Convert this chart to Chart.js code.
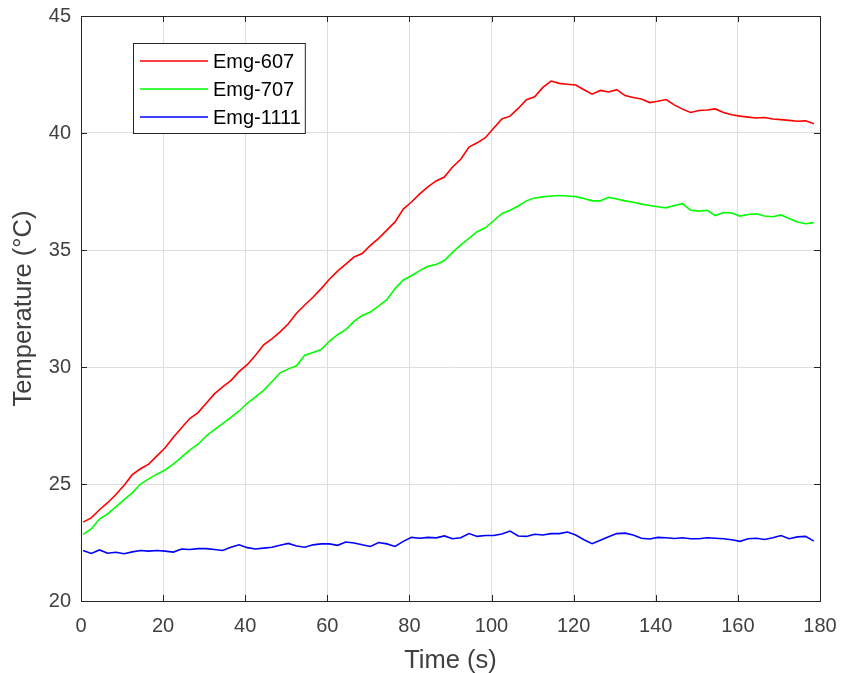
<!DOCTYPE html>
<html>
<head>
<meta charset="utf-8">
<script src="https://cdn.jsdelivr.net/npm/chart.js@4.4.0/dist/chart.umd.min.js"></script>
<style>
  html, body { margin: 0; padding: 0; background: #fff; }
  #wrap { width: 841px; height: 673px; }
</style>
</head>
<body>
<div id="wrap"><canvas id="tempChart" width="841" height="673"></canvas></div>
<script>
/* ===== Data ===== */
const timeS = [
  0.5, 2.5, 4.5, 6.5, 8.5, 10.5, 12.5, 14.5, 16.5, 18.5,
  20.5, 22.5, 24.5, 26.5, 28.5, 30.5, 32.5, 34.5, 36.5, 38.5,
  40.5, 42.5, 44.5, 46.5, 48.5, 50.5, 52.5, 54.5, 56.5, 58.5,
  60.5, 62.5, 64.5, 66.5, 68.5, 70.5, 72.5, 74.5, 76.5, 78.5,
  80.5, 82.5, 84.5, 86.5, 88.5, 90.5, 92.5, 94.5, 96.5, 98.5,
  100.5, 102.5, 104.5, 106.5, 108.5, 110.5, 112.5, 114.5, 116.5, 118.5,
  120.5, 122.5, 124.5, 126.5, 128.5, 130.5, 132.5, 134.5, 136.5, 138.5,
  140.5, 142.5, 144.5, 146.5, 148.5, 150.5, 152.5, 154.5, 156.5, 158.5,
  160.5, 162.5, 164.5, 166.5, 168.5, 170.5, 172.5, 174.5, 176.5, 178.5
];

const emg607 = [
  23.37, 23.55, 23.90, 24.20, 24.55, 24.95, 25.40, 25.65, 25.85, 26.20,
  26.55, 27.00, 27.40, 27.80, 28.05, 28.45, 28.85, 29.15, 29.42, 29.80,
  30.10, 30.50, 30.95, 31.20, 31.50, 31.85, 32.30, 32.65, 32.98, 33.35,
  33.75, 34.10, 34.40, 34.70, 34.85, 35.20, 35.50, 35.85, 36.20, 36.75,
  37.05, 37.40, 37.70, 37.95, 38.12, 38.55, 38.88, 39.40, 39.58, 39.80,
  40.20, 40.60, 40.72, 41.05, 41.42, 41.55, 41.95, 42.22, 42.12, 42.08,
  42.05, 41.85, 41.66, 41.82, 41.75, 41.85, 41.60, 41.52, 41.45, 41.30,
  41.36, 41.43, 41.20, 41.02, 40.88, 40.96, 40.98, 41.03, 40.88, 40.78,
  40.72, 40.68, 40.64, 40.66, 40.60, 40.57, 40.54, 40.50, 40.52, 40.40
];

const emg707 = [
  22.85, 23.08, 23.50, 23.72, 24.02, 24.33, 24.62, 25.00, 25.22, 25.42,
  25.60, 25.85, 26.15, 26.45, 26.70, 27.05, 27.32, 27.58, 27.85, 28.12,
  28.45, 28.72, 29.00, 29.37, 29.75, 29.92, 30.05, 30.50, 30.62, 30.75,
  31.10, 31.38, 31.60, 31.95, 32.20, 32.35, 32.60, 32.88, 33.35, 33.72,
  33.90, 34.12, 34.30, 34.38, 34.55, 34.90, 35.22, 35.50, 35.78, 35.95,
  36.25, 36.55, 36.70, 36.88, 37.10, 37.22, 37.27, 37.31, 37.33, 37.31,
  37.28, 37.20, 37.10, 37.10, 37.25, 37.18, 37.10, 37.04, 36.96, 36.90,
  36.85, 36.80, 36.90, 36.98, 36.70, 36.66, 36.70, 36.47, 36.60, 36.58,
  36.45, 36.52, 36.55, 36.45, 36.42, 36.50, 36.35, 36.20, 36.12, 36.17
];

const emg1111 = [
  22.16, 22.03, 22.18, 22.04, 22.08, 22.02, 22.10, 22.16, 22.13, 22.16,
  22.13, 22.09, 22.22, 22.20, 22.24, 22.24, 22.20, 22.16, 22.30, 22.40,
  22.28, 22.22, 22.26, 22.30, 22.38, 22.46, 22.35, 22.30, 22.40, 22.44,
  22.44, 22.38, 22.52, 22.48, 22.40, 22.33, 22.50, 22.44, 22.33, 22.55,
  22.72, 22.68, 22.72, 22.70, 22.78, 22.66, 22.70, 22.88, 22.76, 22.80,
  22.80, 22.86, 22.99, 22.78, 22.76, 22.85, 22.82, 22.88, 22.88, 22.95,
  22.82, 22.62, 22.45, 22.60, 22.75, 22.88, 22.90, 22.82, 22.68, 22.65,
  22.72, 22.70, 22.67, 22.70, 22.66, 22.66, 22.70, 22.68, 22.66, 22.62,
  22.55, 22.66, 22.68, 22.63, 22.70, 22.80, 22.66, 22.74, 22.76, 22.56
];

const seriesNames = ["Emg-607", "Emg-707", "Emg-1111"];
const seriesColors = ["#ff0000", "#00ff00", "#0000ff"];
const xTicks = [0, 20, 40, 60, 80, 100, 120, 140, 160, 180];
const yTicks = [20, 25, 30, 35, 40, 45];

const axisColor = "#262626";
const tickColor = "#404040";
const fontFamily = "'Liberation Sans', Arial, Helvetica, sans-serif";

function toPoints(values) {
  return values.map((v, i) => ({ x: timeS[i], y: v }));
}

/* ===== Box + inward ticks (MATLAB style) ===== */
const boxPlugin = {
  id: "boxPlugin",
  afterDatasetsDraw(chart) {
    const { ctx, chartArea: a, scales } = chart;
    const len = 6;
    ctx.save();
    ctx.strokeStyle = axisColor;
    ctx.lineWidth = 1;
    ctx.beginPath();
    xTicks.forEach(v => {
      const px = Math.round(scales.x.getPixelForValue(v)) + 0.5;
      ctx.moveTo(px, a.bottom); ctx.lineTo(px, a.bottom - len);
      ctx.moveTo(px, a.top); ctx.lineTo(px, a.top + len);
    });
    yTicks.forEach(v => {
      const py = Math.round(scales.y.getPixelForValue(v)) + 0.5;
      ctx.moveTo(a.left, py); ctx.lineTo(a.left + len, py);
      ctx.moveTo(a.right, py); ctx.lineTo(a.right - len, py);
    });
    ctx.stroke();
    ctx.strokeRect(Math.round(a.left) + 0.5, Math.round(a.top) + 0.5,
      Math.round(a.right - a.left), Math.round(a.bottom - a.top));
    ctx.restore();
  }
};

/* ===== Legend inside the axes ===== */
const insideLegend = {
  id: "insideLegend",
  afterDraw(chart) {
    const { ctx } = chart;
    const left = 133, top = 43, rowH = 28, lineLen = 68;
    ctx.save();
    ctx.font = "20px " + fontFamily;
    const textW = Math.max(...seriesNames.map(n => ctx.measureText(n).width));
    const w = 7 + lineLen + 5 + textW + 4;
    const h = rowH * seriesNames.length + 6;
    ctx.fillStyle = "#fff";
    ctx.fillRect(left, top, w, h);
    ctx.strokeStyle = axisColor;
    ctx.lineWidth = 1;
    ctx.strokeRect(left + 0.5, top + 0.5, w, h);
    ctx.textBaseline = "middle";
    seriesNames.forEach((name, i) => {
      const cy = top + 18 + i * rowH;
      ctx.strokeStyle = seriesColors[i];
      ctx.lineWidth = 1.5;
      ctx.beginPath();
      ctx.moveTo(left + 7, cy);
      ctx.lineTo(left + 7 + lineLen, cy);
      ctx.stroke();
      ctx.fillStyle = "#000";
      ctx.fillText(name, left + 7 + lineLen + 5, cy + 1);
    });
    ctx.restore();
  }
};

/* ===== Chart ===== */
const datasets = [emg607, emg707, emg1111].map((vals, i) => ({
  label: seriesNames[i],
  data: toPoints(vals),
  borderColor: seriesColors[i],
  backgroundColor: seriesColors[i],
  borderWidth: 1.6,
  pointRadius: 0,
  tension: 0,
  fill: false
}));

new Chart(document.getElementById("tempChart"), {
  type: "line",
  data: { datasets },
  options: {
    responsive: false,
    animation: false,
    layout: { padding: { left: 0, right: 21, top: 16, bottom: 0 } },
    plugins: { legend: { display: false }, tooltip: { enabled: false } },
    scales: {
      x: {
        type: "linear",
        min: 0,
        max: 180,
        afterBuildTicks: s => { s.ticks = xTicks.map(v => ({ value: v })); },
        afterFit: s => { s.height = 72; s.paddingLeft = 0; s.paddingRight = 0; },
        ticks: { color: tickColor, font: { size: 20, family: fontFamily }, padding: 13, maxRotation: 0 },
        grid: { color: "#dedede", lineWidth: 1, drawTicks: false },
        border: { display: false },
        title: { display: true, text: "Time (s)", color: tickColor, font: { size: 25.5, family: fontFamily }, padding: { top: 2, bottom: -3 } }
      },
      y: {
        min: 20,
        max: 45,
        afterBuildTicks: s => { s.ticks = yTicks.map(v => ({ value: v })); },
        afterFit: s => { s.width = 81; s.paddingTop = 0; s.paddingBottom = 0; },
        ticks: { color: tickColor, font: { size: 20, family: fontFamily }, padding: 10 },
        grid: { color: "#dedede", lineWidth: 1, drawTicks: false },
        border: { display: false },
        title: { display: true, text: "Temperature (°C)", color: tickColor, font: { size: 25.5, family: fontFamily }, padding: { top: 9, bottom: 0 } }
      }
    }
  },
  plugins: [boxPlugin, insideLegend]
});
</script>
</body>
</html>
